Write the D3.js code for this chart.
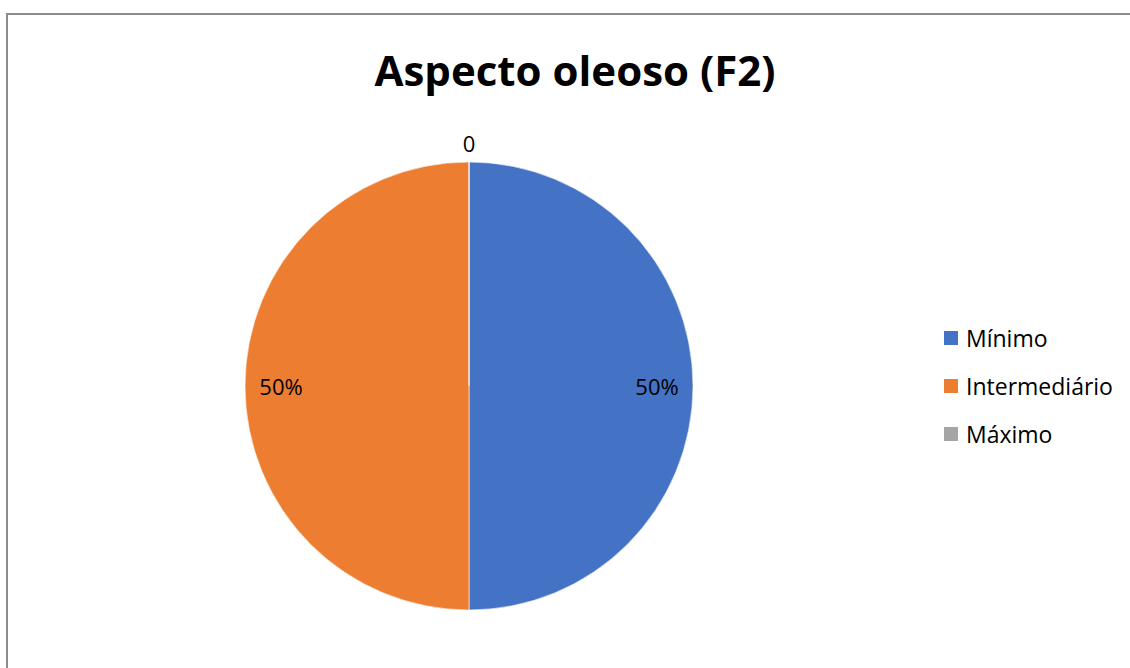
<!DOCTYPE html>
<html lang="pt">
<head>
<meta charset="UTF-8">
<title>Aspecto oleoso (F2)</title>
<script src="https://cdn.jsdelivr.net/npm/d3@7"></script>
<style>
  body { margin: 0; background: #fff; }
  text { font-family: "Open Sans", "Noto Sans", sans-serif; }
</style>
</head>
<body>
<svg id="chart" width="1130" height="668"></svg>
<script>
// data
const categories = ["Mínimo", "Intermediário", "Máximo"];
const values = [50, 50, 0];
const labels = ["50%", "50%", "0"];
const colors = ["#4472C4", "#ED7D31", "#A5A5A5"];

const svg = d3.select("#chart");

// chart area border (runs off the right and bottom edges)
svg.append("rect")
  .attr("x", 7).attr("y", 14)
  .attr("width", 1140).attr("height", 680)
  .attr("fill", "#fff")
  .attr("stroke", "#8c8c8c")
  .attr("stroke-width", 2);

svg.append("text")
  .attr("x", 575).attr("y", 86)
  .attr("text-anchor", "middle")
  .attr("font-size", 42)
  .attr("font-weight", "bold")
  .attr("fill", "#000")
  .text("Aspecto oleoso (F2)");

const cx = 469, cy = 386, r = 224;
const g = svg.append("g").attr("transform", `translate(${cx},${cy})`);

const pie = d3.pie().sort(null).value(d => d.value);
const data = categories.map((c, i) => ({ name: c, value: values[i], label: labels[i], color: colors[i] }));
const arcs = pie(data);

const arc = d3.arc().innerRadius(0).outerRadius(r);
g.selectAll("path")
  .data(arcs)
  .join("path")
  .attr("d", arc)
  .attr("fill", d => d.data.color)
  .attr("stroke", "#fff")
  .attr("stroke-width", 0.6);

// labels: inside end for real slices, outside for empty ones
const inside = d3.arc().innerRadius(188).outerRadius(188);
const outside = d3.arc().innerRadius(243).outerRadius(243);
g.selectAll("text.lbl")
  .data(arcs)
  .join("text")
  .attr("class", "lbl")
  .attr("transform", d => `translate(${(d.value > 0 ? inside : outside).centroid(d)})`)
  .attr("text-anchor", "middle")
  .attr("dominant-baseline", "central")
  .attr("font-size", 22)
  .attr("fill", "#000")
  .text(d => d.data.label);

// legend
const legend = svg.append("g").attr("transform", "translate(944,338)");
const item = legend.selectAll("g")
  .data(data)
  .join("g")
  .attr("transform", (d, i) => `translate(0,${i * 48})`);
item.append("rect")
  .attr("x", 0).attr("y", -7)
  .attr("width", 14).attr("height", 14)
  .attr("fill", d => d.color);
item.append("text")
  .attr("x", 22).attr("y", 0)
  .attr("dominant-baseline", "central")
  .attr("font-size", 23)
  .attr("fill", "#000")
  .text(d => d.name);
</script>
</body>
</html>
